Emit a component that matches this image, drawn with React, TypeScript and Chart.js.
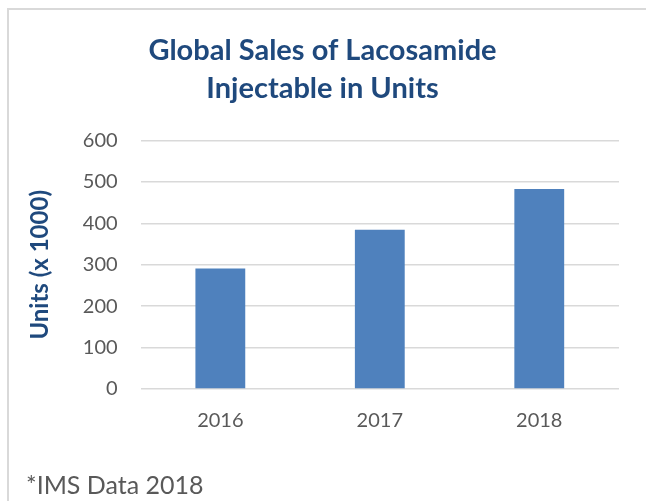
import React, { useEffect, useRef } from "react";
import { Chart, registerables } from "chart.js";

Chart.register(...registerables);

const categories = ["2016", "2017", "2018"];
const salesUnits = [291, 385, 483];
const yTicks = [0, 100, 200, 300, 400, 500, 600];
const titleLines = ["Global Sales of Lacosamide", "Injectable in Units"];
const yAxisTitle = "Units (x 1000)";
const footnote = "*IMS Data 2018";

const FONT = "Lato, 'Open Sans', sans-serif";

export default function App() {
  const ref = useRef<HTMLCanvasElement | null>(null);

  useEffect(() => {
    if (!ref.current) return;
    const chart = new Chart(ref.current, {
      type: "bar",
      data: {
        labels: categories,
        datasets: [
          {
            data: salesUnits,
            backgroundColor: "#4F81BD",
            borderWidth: 0,
            barPercentage: 1,
            categoryPercentage: 0.3125,
          },
        ],
      },
      options: {
        animation: false,
        responsive: false,
        maintainAspectRatio: false,
        layout: { padding: { left: 26, right: 27, top: 0, bottom: 48 } },
        plugins: {
          legend: { display: false },
          tooltip: { enabled: false },
          title: {
            display: true,
            text: titleLines,
            color: "#1F497D",
            font: { family: FONT, size: 29, weight: "bold", lineHeight: 1.33 },
            padding: { top: 31, bottom: 32.5 },
          },
        },
        scales: {
          x: {
            grid: { display: false, drawTicks: false },
            border: { display: false },
            ticks: {
              color: "#595959",
              font: { family: FONT, size: 20 },
              padding: 20,
            },
          },
          y: {
            min: 0,
            max: 600,
            afterBuildTicks: (scale: any) => {
              scale.ticks = yTicks.map((v) => ({ value: v }));
            },
            grid: { color: "#D9D9D9", lineWidth: 1.5, drawTicks: false },
            border: { display: false },
            ticks: {
              color: "#595959",
              font: { family: FONT, size: 20 },
              padding: 23,
            },
            title: {
              display: true,
              text: yAxisTitle,
              color: "#1F497D",
              font: { family: FONT, size: 24, weight: "bold" },
              padding: { top: 0, bottom: 5 },
            },
          },
        },
      },
    });
    return () => chart.destroy();
  }, []);

  return (
    <div style={{ position: "absolute", left: 0, top: 0, width: 646, height: 501, background: "#fff", overflow: "hidden" }}>
      <div
        style={{
          position: "absolute",
          left: 7,
          top: 8,
          width: 700,
          height: 600,
          borderTop: "2px solid #D9D9D9",
          borderLeft: "2px solid #D9D9D9",
        }}
      />
      <canvas ref={ref} width={646} height={501} style={{ position: "absolute", left: 0, top: 0 }} />
      <div
        style={{
          position: "absolute",
          left: 26,
          top: 469,
          fontFamily: FONT,
          fontSize: 25,
          lineHeight: "30px",
          color: "#595959",
          whiteSpace: "nowrap",
        }}
      >
        {footnote}
      </div>
    </div>
  );
}
